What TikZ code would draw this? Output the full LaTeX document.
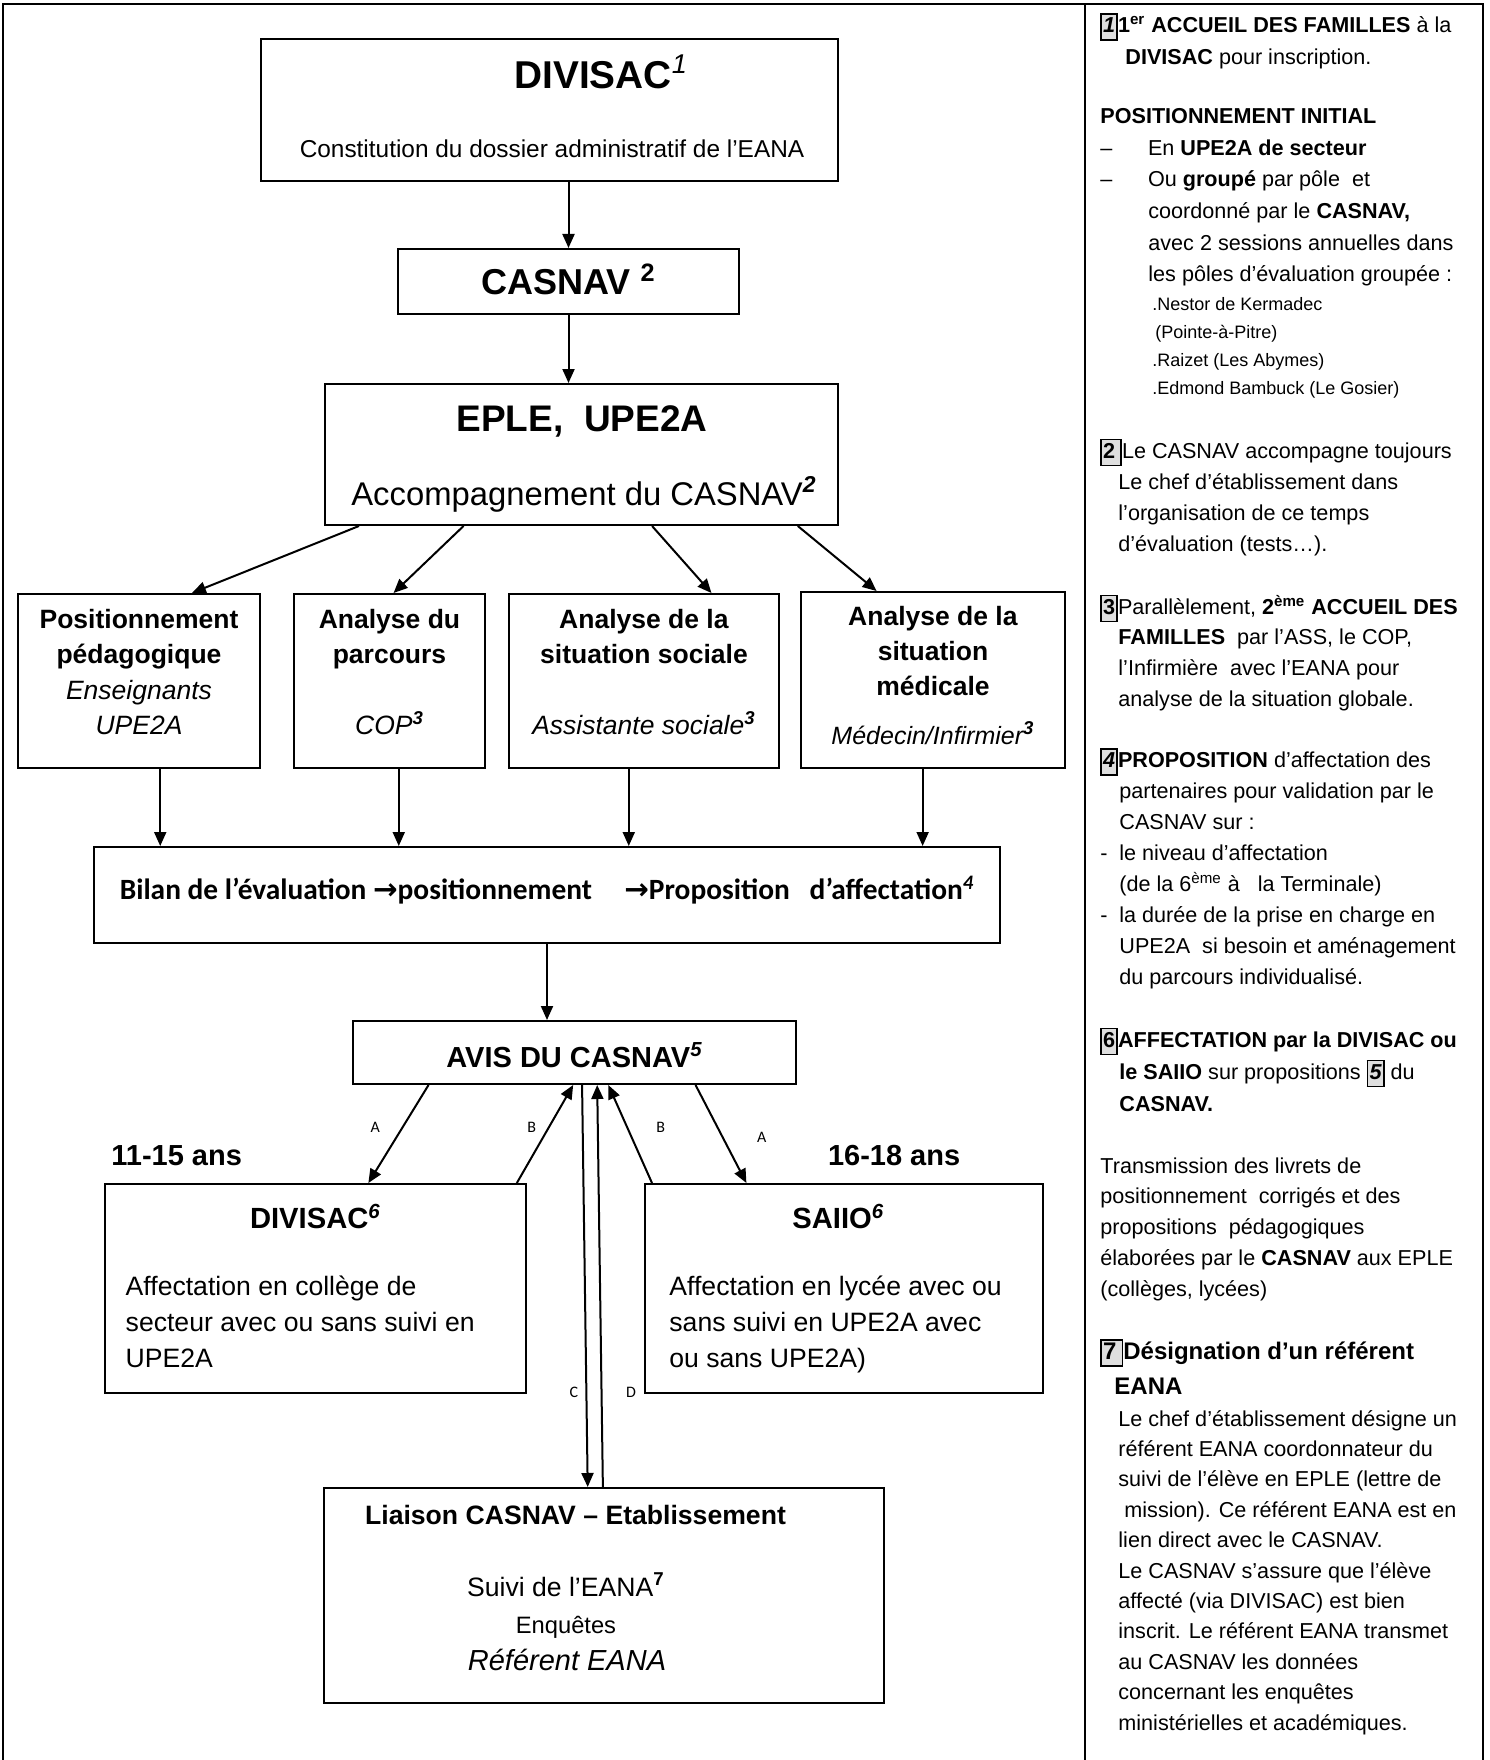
\documentclass[tikz,border=0pt]{standalone}
\usepackage{fontspec}
\setmainfont{Liberation Sans}
\newfontfamily\calfont{Carlito}
\newfontfamily\symfont{DejaVu Sans}
\usetikzlibrary{arrows.meta,calc,positioning}
\newcommand{\fsz}[2]{\fontsize{#1pt}{#2pt}\selectfont}
\newcommand{\fl}{\rule{0pt}{1.2em}}
\newcommand{\numbox}[1]{{\setlength{\fboxsep}{0.6pt}\setlength{\fboxrule}{0.8pt}\fcolorbox{black}{gray!25}{\rule[-2.6pt]{0pt}{11pt}#1}}}
\newcommand{\supb}[1]{\textsuperscript{\bfseries\itshape #1}}
\tikzstyle{box}=[rectangle,draw,line width=1pt,inner sep=0pt]
\tikzstyle{txt}=[inner sep=0pt,anchor=base]
\tikzstyle{txtc}=[inner sep=0pt,anchor=north,align=center]
\tikzstyle{note}=[inner sep=0pt,anchor=north west,align=left]
\tikzstyle{flow}=[-{Triangle[length=7pt,width=6pt]},line width=1pt]
\tikzstyle{lbl}=[inner sep=0pt,font=\calfont\fsz{8}{9}]
\begin{document}
\begin{tikzpicture}[x=0.5pt,y=-0.5pt]
\useasboundingbox (0,0) rectangle (1489,1760);

% cadre
\draw[line width=1.2pt] (3,1760) -- (3,4) -- (1483,4) -- (1483,1760);
\draw[line width=1.2pt] (1085,4) -- (1085,1760);

% boites
\node[box,minimum width=288.5pt,minimum height=71pt] (divisac) at (549.5,110) {};
\node[box,minimum width=170.5pt,minimum height=32.5pt] (casnav) at (568.5,281.5) {};
\node[box,minimum width=256.5pt,minimum height=70.5pt] (eple) at (581.5,454.5) {};
\node[box,minimum width=121pt,minimum height=87pt] (pos) at (139,681) {};
\node[box,minimum width=95.5pt,minimum height=87pt] (parc) at (389.5,681) {};
\node[box,minimum width=135pt,minimum height=87pt] (soc) at (644,681) {};
\node[box,minimum width=132pt,minimum height=88pt] (med) at (933,680) {};
\node[box,minimum width=453pt,minimum height=48pt] (bilan) at (547,895) {};
\node[box,minimum width=221.5pt,minimum height=31.5pt] (avis) at (574.5,1052.5) {};
\node[box,minimum width=210.5pt,minimum height=104.5pt] (aff6) at (315.5,1288.5) {};
\node[box,minimum width=199pt,minimum height=104.5pt] (saiio) at (844,1288.5) {};
\node[box,minimum width=280pt,minimum height=107.5pt] (liaison) at (604,1595.5) {};

% textes des boites
\node[txt,anchor=base west,font=\fsz{19.4}{22}\bfseries] (divisacT) at (514,89) {DIVISAC\textsuperscript{\mdseries\itshape 1}};
\node[txt,font=\fsz{12.2}{14}] (divisacS) at (552,157.7) {Constitution du dossier administratif de l’EANA};
\node[txt,font=\fsz{18}{20}\bfseries] (casnavT) at (568.5,294) {CASNAV \textsuperscript{2}};
\node[txt,font=\fsz{18.5}{21}\bfseries] (epleT) at (582,431.7) {EPLE,\ \ UPE2A};
\node[txt,font=\fsz{16.4}{18}] (epleS) at (584,505.3) {Accompagnement du CASNAV\supb{2}};
\node[txtc,font=\fsz{13.25}{17.75}] (posT) at (139,596.2) {\fl\textbf{Positionnement}\\\textbf{pédagogique}\\\textit{Enseignants}\\\textit{UPE2A}};
\node[txtc,font=\fsz{13.25}{17.75}] (parcT) at (389.5,596.2) {\fl\textbf{Analyse du}\\\textbf{parcours}\\[17.75pt]\textit{COP}\supb{3}};
\node[txtc,font=\fsz{13.25}{17.75}] (socT) at (644,596.2) {\fl\textbf{Analyse de la}\\\textbf{situation sociale}\\[17.75pt]\textit{Assistante sociale}\supb{3}};
\node[txtc,font=\fsz{13.25}{17.3}] (medT) at (933,593.7) {\fl\textbf{Analyse de la}\\\textbf{situation}\\\textbf{médicale}\\[7.5pt]{\fsz{12.5}{17.3}\itshape Médecin/Infirmier}\supb{3}};
\node[txt,font=\calfont\bfseries\fsz{14.7}{17}] (bilanT) at (547,899.5) {Bilan de l’évaluation {\symfont\bfseries →}positionnement\hspace{1.1em}{\symfont\bfseries →}Proposition\hspace{0.45em} d’affectation\textsuperscript{\itshape 4}};
\node[txt,font=\fsz{14.5}{17}\bfseries] (avisT) at (574.5,1067) {AVIS DU CASNAV\textsuperscript{\itshape 5}};
\node[txt,anchor=base west,font=\fsz{14.5}{17}\bfseries] (age1) at (111,1165.4) {11-15 ans};
\node[txt,anchor=base west,font=\fsz{14.5}{17}\bfseries] (age2) at (827.6,1165.4) {16-18 ans};
\node[txt,anchor=base west,font=\fsz{14.6}{17}\bfseries] (aff6T) at (249.6,1228.5) {DIVISAC\textsuperscript{\itshape 6}};
\node[txt,anchor=base west,font=\fsz{14.6}{17}\bfseries] (saiioT) at (792,1228.5) {SAIIO\textsuperscript{\itshape 6}};
\node[note,font=\fsz{13.3}{18}] (aff6S) at (125.3,1263.6) {\fl Affectation en collège de\\secteur avec ou sans suivi en\\UPE2A};
\node[note,font=\fsz{13.3}{18}] (saiioS) at (669,1263.6) {\fl Affectation en lycée avec ou\\sans suivi en UPE2A avec\\ou sans UPE2A)};
\node[txt,font=\fsz{13.3}{16}\bfseries] (liaisonT) at (575.5,1524.5) {Liaison CASNAV – Etablissement};
\node[txt,anchor=base west,font=\fsz{13.3}{16}] (suiviT) at (466.7,1596) {Suivi de l’EANA\textsuperscript{\bfseries 7}};
\node[txt,font=\fsz{11.85}{14}] (enqT) at (566,1633.5) {Enquêtes};
\node[txt,font=\fsz{14.5}{17}\itshape] (refT) at (567,1670) {Référent EANA};

% fleches
\draw[flow] (divisac.south -| casnav.north) -- (casnav.north);
\draw[flow] (casnav.south) -- (casnav.south |- eple.north);
\foreach \b/\s/\e in {pos/0.068/0.717,parc/0.271/0.521,soc/0.637/0.748,med/0.920/0.288}
  \draw[flow] ($(eple.south west)!\s!(eple.south east)$) -- ($(\b.north west)!\e!(\b.north east)$);
\foreach \b/\f in {pos/0.587,parc/0.548,soc/0.444,med/0.461} {
  \coordinate (d\b) at ($(\b.south west)!\f!(\b.south east)$);
  \draw[flow] (d\b) -- (d\b |- bilan.north);
}
\draw[flow] (bilan.south) -- (bilan.south |- avis.north);
\draw[flow] ($(avis.south west)!0.172!(avis.south east)$) -- node[lbl,pos=0.43,xshift=-13.75pt] (lA1) {A} ($(aff6.north west)!0.625!(aff6.north east)$);
\draw[flow] ($(aff6.north west)!0.976!(aff6.north east)$) -- node[lbl,pos=0.567,xshift=-8.5pt] (lB1) {B} ($(avis.south west)!0.497!(avis.south east)$);
\draw[flow] ($(avis.south west)!0.517!(avis.south east)$) -- node[lbl,pos=0.764,xshift=-6.3pt] (lC) {C} ($(liaison.north west)!0.471!(liaison.north east)$);
\draw[flow] ($(liaison.north west)!0.498!(liaison.north east)$) -- node[lbl,pos=0.236,xshift=14.7pt] (lD) {D} ($(avis.south west)!0.551!(avis.south east)$);
\draw[flow] ($(saiio.north west)!0.02!(saiio.north east)$) -- node[lbl,pos=0.567,xshift=16.75pt] (lB2) {B} ($(avis.south west)!0.576!(avis.south east)$);
\draw[flow] ($(avis.south west)!0.772!(avis.south east)$) -- node[lbl,pos=0.535,xshift=19.5pt] (lA2) {A} ($(saiio.north west)!0.256!(saiio.north east)$);

% colonne de droite
\node[note,font=\fsz{10.8}{15.7}] (n1) at (1100,6.5) {\fl\numbox{\textbf{\textit{1}}}\textbf{1\textsuperscript{er} ACCUEIL DES FAMILLES} à la\\\hspace*{12.5pt}\textbf{DIVISAC} pour inscription.};
\node[note,font=\fsz{10.8}{15.8}] (n2) at (1100,97.4) {\fl\textbf{POSITIONNEMENT INITIAL}\\
\makebox[23.8pt][l]{–}En \textbf{UPE2A de secteur}\\
\makebox[23.8pt][l]{–}Ou \textbf{groupé} par pôle\ \ et\\
\hspace*{24pt}coordonné par le \textbf{CASNAV,}\\
\hspace*{24pt}avec 2 sessions annuelles dans\\
\hspace*{24pt}les pôles d’évaluation groupée :};
\node[note,font=\fsz{9}{14}] (n3) at (1152,288.8) {\fl.Nestor de Kermadec\\\hspace*{1.5pt}(Pointe-à-Pitre)\\.Raizet (Les Abymes)\\.Edmond Bambuck (Le Gosier)};
\node[note,font=\fsz{10.8}{15.5}] (n4) at (1100,431.8) {\fl\numbox{\textbf{2}\hspace{2pt}}Le CASNAV accompagne toujours\\
\hspace*{9pt}Le chef d’établissement dans\\
\hspace*{9pt}l’organisation de ce temps\\
\hspace*{9pt}d’évaluation (tests…).};
\node[note,font=\fsz{10.8}{15.35}] (n5) at (1100,587.8) {\fl\numbox{\textbf{3}}Parallèlement, \textbf{2\textsuperscript{ème} ACCUEIL DES}\\
\hspace*{9pt}\textbf{FAMILLES}\ \ par l’ASS, le COP,\\
\hspace*{9pt}l’Infirmière\ \ avec l’EANA pour\\
\hspace*{9pt}analyse de la situation globale.};
\node[note,font=\fsz{10.8}{15.45}] (n6) at (1100,741.5) {\fl\numbox{\textbf{\textit{4}}}\textbf{PROPOSITION} d’affectation des\\
\hspace*{9.5pt}partenaires pour validation par le\\
\hspace*{9.5pt}CASNAV sur :\\
\makebox[9.5pt][l]{-}le niveau d’affectation\\
\hspace*{9.5pt}(de la 6\textsuperscript{ème} à\ \ \ la Terminale)\\
\makebox[9.5pt][l]{-}la durée de la prise en charge en\\
\hspace*{9.5pt}UPE2A\ \ si besoin et aménagement\\
\hspace*{9.5pt}du parcours individualisé.};
\node[note,font=\fsz{10.8}{16}] (n7) at (1100,1020.8) {\fl\numbox{\textbf{6}}\textbf{AFFECTATION par la DIVISAC ou}\\
\hspace*{9.5pt}\textbf{le SAIIO} sur propositions \numbox{\textbf{\textit{5}}} du\\
\hspace*{9.5pt}\textbf{CASNAV.}};
\node[note,font=\fsz{10.8}{15.4}] (n8) at (1100,1146.8) {\fl Transmission des livrets de\\
positionnement\ \ corrigés et des\\
propositions\ \ pédagogiques\\
élaborées par le \textbf{CASNAV} aux EPLE\\
(collèges, lycées)};
\node[note,font=\fsz{12}{17.5}\bfseries] (n9) at (1100,1329.8) {\fl\numbox{7\hspace{2pt}}Désignation d’un référent\\\hspace*{7pt}EANA};
\node[note,font=\fsz{10.8}{15.2}] (n10) at (1118,1399.8) {\fl Le chef d’établissement désigne un\\
référent EANA coordonnateur du\\
suivi de l’élève en EPLE (lettre de\\
\hspace*{3pt}mission). Ce référent EANA est en\\
lien direct avec le CASNAV.\\
Le CASNAV s’assure que l’élève\\
affecté (via DIVISAC) est bien\\
inscrit. Le référent EANA transmet\\
au CASNAV les données\\
concernant les enquêtes\\
ministérielles et académiques.};
\end{tikzpicture}
\end{document}
